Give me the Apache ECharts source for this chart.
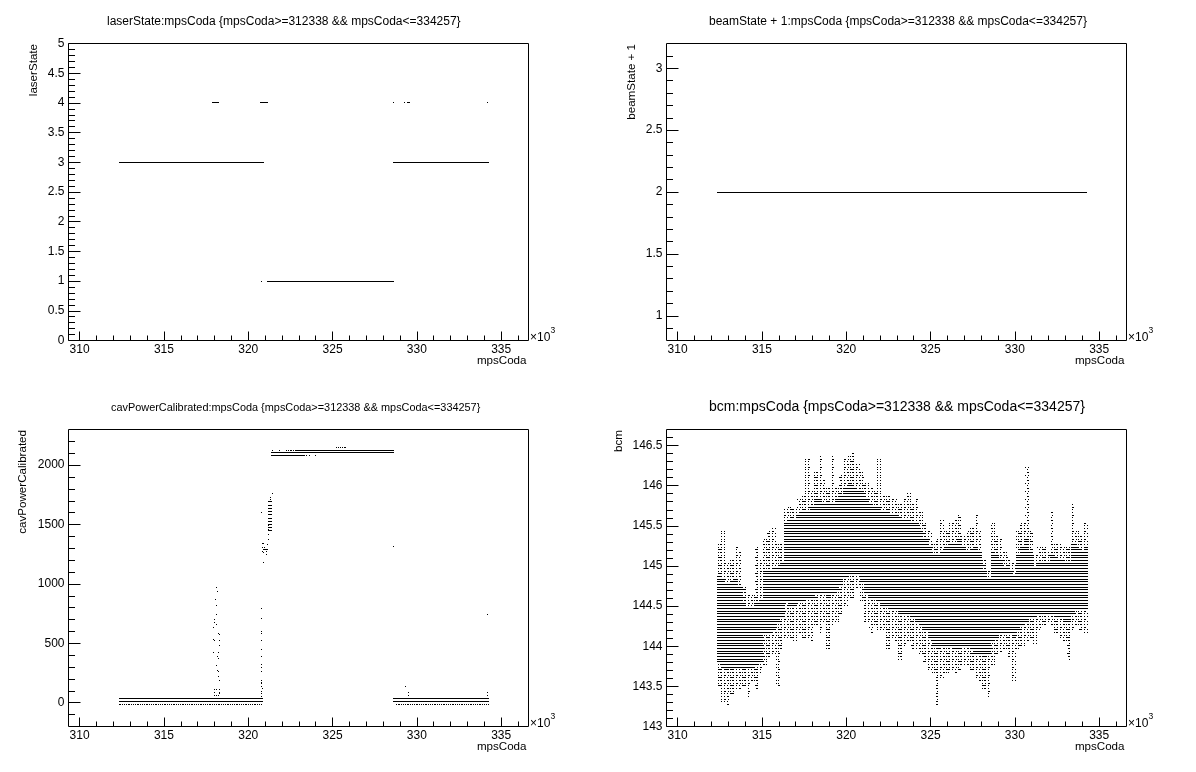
<!DOCTYPE html>
<html><head><meta charset="utf-8">
<script src="https://cdn.jsdelivr.net/npm/echarts@6/dist/echarts.min.js"></script>
<style>html,body{margin:0;padding:0;background:#fff}#c{width:1196px;height:772px}</style>
</head><body><div id="c"></div>
<script>
// ---------------- DATA ----------------
var titles = [
  'laserState:mpsCoda {mpsCoda>=312338 && mpsCoda<=334257}',
  'beamState + 1:mpsCoda {mpsCoda>=312338 && mpsCoda<=334257}',
  'cavPowerCalibrated:mpsCoda {mpsCoda>=312338 && mpsCoda<=334257}',
  'bcm:mpsCoda {mpsCoda>=312338 && mpsCoda<=334257}'
];
var yTitles = ['laserState', 'beamState + 1', 'cavPowerCalibrated', 'bcm'];
var xTitle = 'mpsCoda';
var xRange = [309340, 336620];
var xMajorTicks = [310000, 315000, 320000, 325000, 330000, 335000];
var yRanges = [[0, 5], [0.8, 3.2], [-200, 2300], [143, 146.7]];
var yMajorTicks = [
  [0, 0.5, 1, 1.5, 2, 2.5, 3, 3.5, 4, 4.5, 5],
  [1, 1.5, 2, 2.5, 3],
  [0, 500, 1000, 1500, 2000],
  [143, 143.5, 144, 144.5, 145, 145.5, 146, 146.5]
];
var yMinorSteps = [0.1, 0.1, 100, 0.1];
var xMinorStep = 1000;

// laserState: horizontal runs [xStart, xEnd, value] and single points [x, value]
var laserRuns = [
  [312338, 320910, 3], [328590, 334257, 3], [321140, 328640, 1],
  [317860, 318260, 4], [320670, 321200, 4], [329390, 329620, 4]
];
var laserPoints = [[320750, 1], [328590, 4], [329230, 4], [334170, 4]];

// beamState + 1
var beamRuns = [[312338, 334257, 2]];

// cavPowerCalibrated
var cavRuns = [
  [312338, 320900, 33], [312338, 320900, 14],
  [328600, 334257, 33], [328600, 334257, 14],
  [322850, 328630, 2126], [321370, 328630, 2107], [321370, 323350, 2078],
  [321150, 321430, 1690], [321150, 321430, 1663], [321150, 321430, 1636],
  [321150, 321430, 1609], [321150, 321430, 1582], [321190, 321430, 1555],
  [321190, 321430, 1528], [321190, 321430, 1501], [321190, 321430, 1474],
  [321190, 321430, 1447], [320870, 321110, 1290]
];
var cavSparseRuns = [
  [312338, 320900, -17], [328700, 334257, -17],
  [322220, 322850, 2126], [325230, 325780, 2151]
];
var cavPoints = [
  [321390, 2126], [321820, 2126], [323410, 2078], [323600, 2078], [323940, 2078],
  [318060, 969], [318140, 940], [318020, 865], [318060, 820], [318100, 744],
  [317940, 702], [317980, 679], [318060, 660], [317900, 632], [318180, 584],
  [318260, 578], [317900, 533], [317980, 528], [318260, 528], [318260, 483],
  [317900, 421], [318180, 421], [318140, 388], [318220, 371], [318060, 314],
  [318140, 275], [318220, 264], [318180, 224], [318260, 188], [317980, 112],
  [318100, 112], [318260, 112], [317940, 89], [318260, 89], [317980, 62],
  [318100, 62], [318220, 62], [318260, 76],
  [320770, 792], [320770, 711], [320770, 603], [320770, 584], [320770, 528],
  [320770, 449], [320770, 388], [320770, 323], [320770, 300], [320770, 266],
  [320770, 190], [320770, 170], [320770, 135], [320770, 98], [320770, 75],
  [320770, 56], [320740, 160], [320800, 120],
  [320730, 1601], [320870, 1180], [320790, 1342], [320790, 1306], [320790, 1269],
  [320870, 1342], [320870, 1264], [320950, 1306], [321030, 1269], [321030, 1250],
  [321110, 1286], [321110, 1334], [321150, 1376], [321150, 1418], [321190, 1460],
  [321190, 1488], [321390, 1764], [321270, 1727], [321310, 1713],
  [328590, 1317], [329270, 138], [329450, 84], [329500, 62],
  [334140, 744], [334140, 84], [334140, 62]
];

// bcm: per 250-count column: centre, outer high, dense high, dense low, outer low
var bcmX = [312450,312700,312950,313200,313450,313700,313950,314200,314450,314700,
  314950,315200,315450,315700,315950,316200,316450,316700,316950,317200,
  317450,317700,317950,318200,318450,318700,318950,319200,319450,319700,
  319950,320200,320450,320700,320950,321200,321450,321700,321950,322200,
  322450,322700,322950,323200,323450,323700,323950,324200,324450,324700,
  324950,325200,325450,325700,325950,326200,326450,326700,326950,327200,
  327450,327700,327950,328200,328450,328700,328950,329200,329450,329700,
  329950,330200,330450,330700,330950,331200,331450,331700,331950,332200,
  332450,332700,332950,333200,333450,333700,333950,334200];
var bcmOuterHigh = [145.28,145.44,145.05,145.10,145.25,145.20,144.75,144.65,144.65,145.25,
  145.10,145.35,145.45,145.50,145.30,145.30,145.72,145.75,145.72,145.85,
  145.90,146.34,145.95,146.20,146.37,146.10,146.00,146.37,146.00,146.15,
  146.35,146.40,146.42,146.30,146.20,146.05,146.00,145.95,146.33,145.90,
  145.90,145.85,145.85,145.80,145.85,145.91,145.80,145.85,145.70,145.55,
  145.45,145.30,145.35,145.57,145.45,145.55,145.60,145.65,145.40,145.45,
  145.50,145.63,145.46,145.10,144.95,145.54,145.40,145.35,145.20,145.10,
  145.05,145.45,145.55,146.25,145.45,145.15,145.25,145.25,145.20,145.67,
  145.30,145.30,145.25,145.25,145.79,145.45,145.40,145.55];
var bcmDenseHigh = [144.90,144.85,144.80,144.80,144.85,144.75,144.55,144.50,144.50,144.55,
  144.60,144.95,144.95,145.00,145.00,145.05,145.55,145.60,145.60,145.65,
  145.70,145.70,145.75,145.85,145.85,145.80,145.80,145.80,145.85,145.90,
  146.00,146.05,146.00,145.95,145.95,145.85,145.80,145.75,145.75,145.70,
  145.70,145.65,145.65,145.60,145.60,145.60,145.55,145.55,145.45,145.35,
  145.25,145.15,145.15,145.20,145.25,145.30,145.30,145.35,145.25,145.20,
  145.20,145.25,145.20,144.95,144.85,145.20,145.15,145.10,145.00,144.95,
  144.90,145.15,145.25,145.35,145.20,145.00,145.05,145.05,145.05,145.15,
  145.10,145.10,145.05,145.05,145.30,145.25,145.20,145.25];
var bcmDenseLow = [143.78,143.72,143.70,143.72,143.72,143.72,143.72,143.72,143.72,143.75,
  143.78,144.15,144.15,144.20,144.30,144.35,144.55,144.50,144.50,144.55,
  144.55,144.60,144.60,144.65,144.65,144.65,144.60,144.65,144.70,144.75,
  144.85,144.90,144.90,144.90,144.80,144.65,144.60,144.60,144.55,144.50,
  144.50,144.45,144.45,144.40,144.40,144.40,144.35,144.30,144.25,144.20,
  144.10,144.00,143.95,144.00,144.00,144.00,143.95,143.95,144.00,144.00,
  143.95,143.90,143.90,143.85,143.90,144.05,144.10,144.15,144.15,144.15,
  144.10,144.20,144.25,144.30,144.35,144.35,144.40,144.40,144.40,144.40,
  144.35,144.35,144.30,144.30,144.40,144.45,144.45,144.45];
var bcmOuterLow = [143.50,143.30,143.26,143.40,143.48,143.45,143.50,143.35,143.55,143.45,
  143.65,143.75,143.85,143.90,143.50,143.95,144.10,144.10,144.05,144.15,
  144.10,144.10,144.05,144.25,144.15,144.30,143.97,144.25,144.30,144.40,
  144.50,144.60,144.60,144.74,144.55,144.30,144.18,144.25,144.20,144.20,
  143.97,144.10,144.05,143.84,144.00,144.05,143.95,143.95,143.90,143.80,
  143.72,143.65,143.25,143.60,143.65,143.70,143.65,143.70,143.75,143.75,
  143.70,143.60,143.55,143.45,143.37,143.75,143.90,143.93,143.95,143.85,
  143.55,143.95,144.00,144.05,144.10,144.03,144.20,144.25,144.30,144.25,
  144.15,144.10,144.05,143.84,144.20,144.25,144.20,144.18];
var bcmHalfWidth = 125;

// ---------------- LAYOUT / STYLE ----------------
var FONT = '"Liberation Sans", Arial, Helvetica, sans-serif';
var pads = [{ox: 0, oy: 0}, {ox: 598, oy: 0}, {ox: 0, oy: 386}, {ox: 598, oy: 386}];
var titleLeft = [107, 111, 111, 111];
var titleY = [21.7, 21.7, 21.7, 20.7];
var titleSize = [12, 12, 10.9, 14];
var yTitleX = [33.7, 33.7, 23, 21];
var FR = {left: 68.5, top: 43.5, width: 460, height: 297};

function steps(lo, hi, step, skip) {
  var out = [], n = Math.round((hi - lo) / step);
  for (var i = 0; i <= n; i++) {
    var v = +(lo + i * step).toFixed(6);
    if (skip.some(function (s) { return Math.abs(s - v) < step * 1e-3; })) continue;
    out.push(v);
  }
  return out;
}

function pattern(w, h, rows) {
  var c = document.createElement('canvas'); c.width = w; c.height = h;
  var g = c.getContext('2d'); g.fillStyle = '#000';
  rows.forEach(function (r) { r[1].forEach(function (x) { g.fillRect(x, r[0], 1, 1); }); });
  return {image: c, repeat: 'repeat'};
}
var denseFill = pattern(8, 8, [[0, [0,1,2,3,4,5,6,7]], [3, [0,1,2,3,4,5,6,7]], [5, [0,1,2,3,4,5,6,7]]]);
var sparseFill = pattern(12, 8, [[0, [0,1,4,7,8,10]], [3, [1,4,5,8,10]], [5, [0,1,4,7,10,11]]]);
var dotRowFill = pattern(9, 1, [[0, [0,2,3,5,7]]]);

function runRender(fill) {
  return function (params, api) {
    var p1 = api.coord([api.value(0), api.value(2)]);
    var p2 = api.coord([api.value(1), api.value(2)]);
    var x1 = Math.round(p1[0]), x2 = Math.round(p2[0]), y = Math.floor(p1[1]);
    return {type: 'rect', shape: {x: x1, y: y, width: Math.max(1, x2 - x1), height: 1},
      style: {fill: fill}, silent: true};
  };
}
function pointRender(params, api) {
  var p = api.coord([api.value(0), api.value(1)]);
  return {type: 'rect', shape: {x: Math.round(p[0]), y: Math.floor(p[1]), width: 1, height: 1},
    style: {fill: '#000'}, silent: true};
}
function bcmRender(params, api) {
  var xc = api.value(0);
  var xa = Math.round(api.coord([xc - bcmHalfWidth, 0])[0]);
  var xb = Math.round(api.coord([xc + bcmHalfWidth, 0])[0]);
  var w = Math.max(1, xb - xa);
  var yT = Math.round(api.coord([xc, api.value(1)])[1]);
  var yCT = Math.round(api.coord([xc, api.value(2)])[1]);
  var yCB = Math.round(api.coord([xc, api.value(3)])[1]);
  var yB = Math.round(api.coord([xc, api.value(4)])[1]) + 1;
  return {type: 'group', silent: true, children: [
    {type: 'rect', shape: {x: xa, y: yT, width: w, height: yCT - yT}, style: {fill: sparseFill}},
    {type: 'rect', shape: {x: xa, y: yCT, width: w, height: yCB - yCT}, style: {fill: denseFill}},
    {type: 'rect', shape: {x: xa, y: yCB, width: w, height: yB - yCB}, style: {fill: sparseFill}}
  ]};
}
function numLabel(v) { return String(+(+v).toFixed(6)); }

var grids = [], xAxes = [], yAxes = [], series = [], texts = [];
var xMinor = steps(310000, 336000, xMinorStep, xMajorTicks);

pads.forEach(function (pd, i) {
  grids.push({left: pd.ox + FR.left, top: pd.oy + FR.top, width: FR.width, height: FR.height,
    show: true, borderColor: '#000', borderWidth: 1, backgroundColor: 'transparent'});
  xAxes.push({gridIndex: i, type: 'value', min: xRange[0], max: xRange[1], position: 'bottom',
    axisLine: {show: false, onZero: false}, splitLine: {show: false},
    axisTick: {show: true, inside: true, length: 9, customValues: xMajorTicks, lineStyle: {color: '#000', width: 1}},
    axisLabel: {show: true, customValues: xMajorTicks, margin: 3, color: '#000', fontSize: 12, fontFamily: FONT,
      formatter: function (v) { return String(Math.round(v / 1000)); }}});
  xAxes.push({gridIndex: i, type: 'value', min: xRange[0], max: xRange[1], position: 'bottom',
    axisLine: {show: false, onZero: false}, splitLine: {show: false}, axisLabel: {show: false},
    axisTick: {show: true, inside: true, length: 5, customValues: xMinor, lineStyle: {color: '#000', width: 1}}});
  var yr = yRanges[i], ym = yMajorTicks[i];
  var yMinor = steps(yr[0], yr[1], yMinorSteps[i], ym.concat([yr[0], yr[1]]));
  yAxes.push({gridIndex: i, type: 'value', min: yr[0], max: yr[1], position: 'left',
    axisLine: {show: false, onZero: false}, splitLine: {show: false},
    axisTick: {show: true, inside: true, length: 12, customValues: ym, lineStyle: {color: '#000', width: 1}},
    axisLabel: {show: true, customValues: ym, margin: 4, color: '#000', fontSize: 12, fontFamily: FONT, formatter: numLabel}});
  yAxes.push({gridIndex: i, type: 'value', min: yr[0], max: yr[1], position: 'left',
    axisLine: {show: false, onZero: false}, splitLine: {show: false}, axisLabel: {show: false},
    axisTick: {show: true, inside: true, length: 6.5, customValues: yMinor, lineStyle: {color: '#000', width: 1}}});

  texts.push({type: 'text', x: pd.ox + titleLeft[i], y: pd.oy + titleY[i], silent: true,
    style: {text: titles[i], font: titleSize[i] + 'px ' + FONT, fill: '#000', textAlign: 'left', textVerticalAlign: 'middle'}});
  texts.push({type: 'text', x: pd.ox + yTitleX[i], y: pd.oy + 44, rotation: Math.PI / 2, silent: true,
    style: {text: yTitles[i], font: '11.6px ' + FONT, fill: '#000', textAlign: 'right', textVerticalAlign: 'middle'}});
  texts.push({type: 'text', x: pd.ox + 526.5, y: pd.oy + 360.7, silent: true,
    style: {text: xTitle, font: '11.6px ' + FONT, fill: '#000', textAlign: 'right', textVerticalAlign: 'middle'}});
  texts.push({type: 'text', x: pd.ox + 530, y: pd.oy + 337.5, silent: true,
    style: {text: '\u00d710', font: '12px ' + FONT, fill: '#000', textAlign: 'left', textVerticalAlign: 'middle'}});
  texts.push({type: 'text', x: pd.ox + 550.5, y: pd.oy + 331, silent: true,
    style: {text: '3', font: '8.5px ' + FONT, fill: '#000', textAlign: 'left', textVerticalAlign: 'middle'}});
});

function custom(i, data, render, enc) {
  series.push({type: 'custom', xAxisIndex: 2 * i, yAxisIndex: 2 * i, coordinateSystem: 'cartesian2d',
    data: data, renderItem: render, encode: enc, clip: true, silent: true, animation: false});
}
custom(0, laserRuns, runRender('#000'), {x: [0, 1], y: 2});
custom(0, laserPoints, pointRender, {x: 0, y: 1});
custom(1, beamRuns, runRender('#000'), {x: [0, 1], y: 2});
custom(2, cavRuns, runRender('#000'), {x: [0, 1], y: 2});
custom(2, cavSparseRuns, runRender(dotRowFill), {x: [0, 1], y: 2});
custom(2, cavPoints, pointRender, {x: 0, y: 1});
var bcmCols = bcmX.map(function (x, k) {
  return [x, bcmOuterHigh[k], bcmDenseHigh[k], bcmDenseLow[k], bcmOuterLow[k]];
});
custom(3, bcmCols, bcmRender, {x: 0, y: [1, 2, 3, 4]});

var chart = echarts.init(document.getElementById('c'), null, {renderer: 'canvas', width: 1196, height: 772});
chart.setOption({
  backgroundColor: '#fff', animation: false,
  grid: grids, xAxis: xAxes, yAxis: yAxes, series: series,
  graphic: {elements: texts}
});
</script>
</body></html>
